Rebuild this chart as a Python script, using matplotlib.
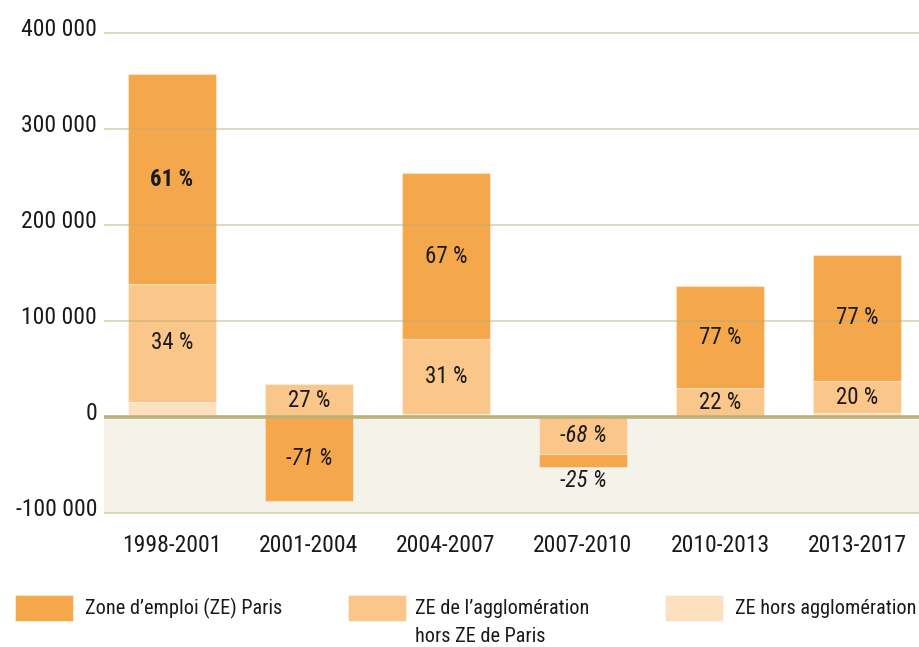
import matplotlib
matplotlib.use("Agg")
import matplotlib.pyplot as plt
from matplotlib import font_manager as fm
from matplotlib.patches import Rectangle
from matplotlib.transforms import ScaledTranslation
import numpy as np

# pick a narrow sans font if one is installed
_names = {f.name for f in fm.fontManager.ttflist}
_chosen, _stretch = None, 'normal'
for c in ['Roboto Condensed', 'Liberation Sans Narrow', 'Noto Sans Condensed', 'Open Sans Condensed',
          'DejaVu Sans Condensed', 'Arial Narrow']:
    if c in _names:
        _chosen = c
        break
if _chosen is None:
    for f in fm.fontManager.ttflist:
        if f.stretch in ('condensed', 'semi-condensed') and f.style == 'normal' and \
                any(f.name.startswith(p) for p in ('Roboto', 'Noto Sans', 'DejaVu Sans', 'Liberation Sans', 'Open Sans')) \
                and 'CJK' not in f.name and 'Mono' not in f.name:
            _chosen, _stretch = f.name, f.stretch
            break
if _chosen is None:
    _chosen = 'Liberation Sans'
plt.rcParams['font.family'] = [_chosen, 'DejaVu Sans']
plt.rcParams['font.stretch'] = _stretch

categories = ['1998-2001', '2001-2004', '2004-2007', '2007-2010', '2010-2013', '2013-2017']
paris = [218500, -87500, 173000, -13500, 106000, 131500]
agglo = [123000, 34000, 78000, -38500, 29000, 33500]
hors = [15600, 0, 3000, 0, 1000, 4000]
pct_paris = ['61 %', '-71 %', '67 %', '-25 %', '77 %', '77 %']
pct_agglo = ['34 %', '27 %', '31 %', '-68 %', '22 %', '20 %']
yticks = [-100000, 0, 100000, 200000, 300000, 400000]
legend_labels = ['Zone d\u2019emploi (ZE) Paris', 'ZE de l\u2019agglom\u00e9ration\nhors ZE de Paris', 'ZE hors agglom\u00e9ration']

c_paris = '#f5a84b'
c_agglo = '#fbc68a'
c_hors = '#fde0c0'
grid_c = '#b8ab6e'
txt_c = '#1a1a1a'

W, H = 920, 647
fig = plt.figure(figsize=(W / 100, H / 100), dpi=100)
ax_left, ax_right, ax_top, ax_bot = 104, 920, 20, 530
ax = fig.add_axes([ax_left / W, 1 - ax_bot / H, (ax_right - ax_left) / W, (ax_bot - ax_top) / H])

ppu = 480 / 500000.0
ax.set_ylim(-100000 - (530 - 513) / ppu, 400000 + (33 - 20) / ppu)
ax.set_xlim(-68 / 137, 5 + 63 / 137)

ax.axhspan(-100000, 0, color='#f5f2ea', zorder=0, lw=0)

x = np.arange(len(categories))
width = 0.64
pos_base = np.zeros(len(categories))
neg_base = np.zeros(len(categories))
for series, col, labels in [(hors, c_hors, None), (agglo, c_agglo, pct_agglo), (paris, c_paris, pct_paris)]:
    vals = np.array(series, dtype=float)
    bottoms = np.where(vals >= 0, pos_base, neg_base)
    ax.bar(x, vals, width, bottom=bottoms, color=col, edgecolor=(1, 1, 1, 0.35), linewidth=0.8, zorder=2)
    if labels is not None:
        for i, (v, b, lab) in enumerate(zip(vals, bottoms, labels)):
            if abs(v) < 20000:
                yy = b + v + np.sign(v) * 14000
            else:
                yy = b + v / 2
            neg = lab.startswith('-')
            ax.text(x[i], yy, lab, ha='center', va='center', fontsize=16.5,
                    fontweight='bold' if lab == '61 %' else 'normal',
                    fontstyle='italic' if neg else 'normal', color=txt_c, zorder=5)
    pos_base = pos_base + np.where(vals >= 0, vals, 0)
    neg_base = neg_base + np.where(vals < 0, vals, 0)

for t in yticks:
    if t == 0:
        continue
    ax.axhline(t, color=grid_c, alpha=0.45, lw=1.4, zorder=3)
ax.axhline(0, color='#bdb178', lw=2.6, zorder=4)

for s in ax.spines.values():
    s.set_visible(False)
ax.set_yticks(yticks)
ax.set_yticklabels([f"{t:,}".replace(',', ' ') for t in yticks], fontsize=17, color=txt_c)
ax.tick_params(axis='y', length=0, pad=5)
off = ScaledTranslation(0, 0.06, fig.dpi_scale_trans)
for lab in ax.get_yticklabels():
    lab.set_transform(lab.get_transform() + off)
ax.set_xticks(x)
ax.set_xticklabels(categories, fontsize=17, color=txt_c)
ax.tick_params(axis='x', length=0, pad=3)

# Legend
leg_items = [(15, 85, c_paris), (348, 415, c_agglo), (665, 735, c_hors)]
for (px, tx, col), lab in zip(leg_items, legend_labels):
    fig.add_artist(Rectangle((px / W, 1 - 621 / H), 58 / W, 26 / H, transform=fig.transFigure,
                             facecolor=col, edgecolor=(1, 1, 1, 0.4), lw=0.8))
    for k, ln in enumerate(lab.split('\n')):
        fig.text(tx / W, 1 - (608 + 28 * k) / H, ln, ha='left', va='center', fontsize=14.6, color=txt_c)

fig.savefig('out.png', dpi=100)
